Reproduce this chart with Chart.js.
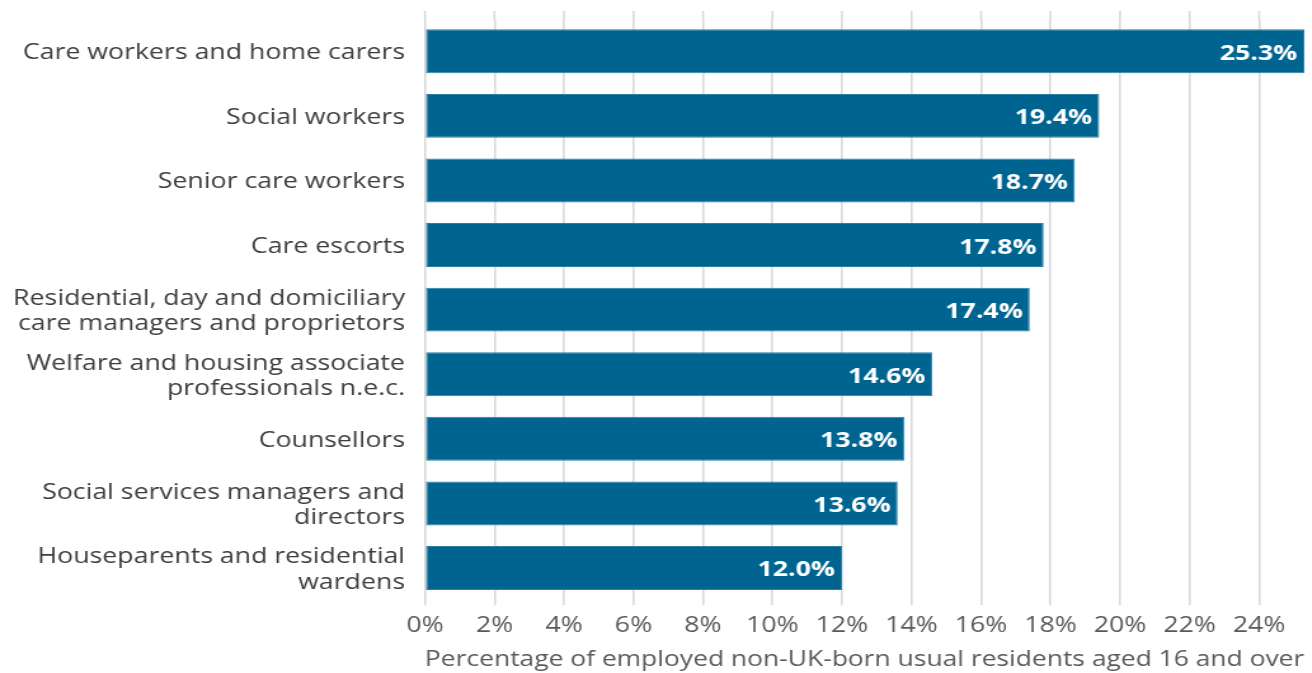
<!DOCTYPE html>
<html lang="en">
<head>
    <meta charset="UTF-8">
    <title>Non-UK-born workers in care occupations</title>
    <script src="https://cdn.jsdelivr.net/npm/chart.js"></script>
    <style>
        * { box-sizing: border-box; margin: 0; padding: 0; }
        body { background: #fff; width: 1312px; height: 673px; overflow: hidden; }
        /* the original graphic is stretched sideways, so draw narrow and widen it */
        #wrap {
            position: relative;
            width: 1033px;
            height: 673px;
            transform: scaleX(1.27);
            transform-origin: 0 0;
        }
    </style>
</head>
<body>
    <div id="wrap"><canvas id="chart"></canvas></div>
    <script>
        // occupations, top to bottom
        const occupations = [
            'Care workers and home carers',
            'Social workers',
            'Senior care workers',
            'Care escorts',
            ['Residential, day and domiciliary', 'care managers and proprietors'],
            ['Welfare and housing associate', 'professionals n.e.c.'],
            'Counsellors',
            ['Social services managers and', 'directors'],
            ['Houseparents and residential', 'wardens']
        ];
        // % of employed non-UK-born usual residents aged 16+
        const shares = [25.3, 19.4, 18.7, 17.8, 17.4, 14.6, 13.8, 13.6, 12.0];
        const axisTitle = 'Percentage of employed non-UK-born usual residents aged 16 and over';

        const FONT = '"Open Sans", sans-serif';

        // value labels inside the bar ends
        const barLabels = {
            id: 'barLabels',
            afterDatasetsDraw(chart) {
                const ctx = chart.ctx;
                const meta = chart.getDatasetMeta(0);
                ctx.save();
                ctx.font = 'bold 21px ' + FONT;
                ctx.fillStyle = '#ffffff';
                ctx.textAlign = 'right';
                ctx.textBaseline = 'middle';
                meta.data.forEach((bar, i) => {
                    ctx.fillText(shares[i].toFixed(1) + '%', bar.x - 5.5, bar.y + 2.5);
                });
                ctx.restore();
            }
        };

        // gridlines poke a little above the plot area
        const gridTop = {
            id: 'gridTop',
            beforeDatasetsDraw(chart) {
                const ctx = chart.ctx;
                const x = chart.scales.x;
                const top = chart.chartArea.top;
                ctx.save();
                ctx.lineWidth = 1.6;
                ctx.strokeStyle = '#d9d9d9';
                x.ticks.forEach(t => {
                    const px = x.getPixelForValue(t.value);
                    ctx.beginPath();
                    ctx.moveTo(px, top - 8);
                    ctx.lineTo(px, top);
                    ctx.stroke();
                });
                ctx.restore();
            }
        };

        new Chart(document.getElementById('chart'), {
            type: 'bar',
            data: {
                labels: occupations,
                datasets: [{
                    data: shares,
                    backgroundColor: '#006491',
                    borderColor: '#2a7fa6',
                    borderWidth: 1,
                    borderSkipped: false,
                    categoryPercentage: 0.68,
                    barPercentage: 1
                }]
            },
            options: {
                indexAxis: 'y',
                responsive: true,
                maintainAspectRatio: false,
                animation: false,
                layout: { padding: { top: 19, right: 6, left: 0, bottom: 0 } },
                plugins: {
                    legend: { display: false },
                    tooltip: { enabled: false }
                },
                scales: {
                    x: {
                        min: 0,
                        max: 25.3,
                        border: { display: false },
                        grid: {
                            color: '#d9d9d9',
                            lineWidth: 1.6,
                            drawTicks: true,
                            tickLength: 5
                        },
                        afterFit: s => { s.height = 72.7; },
                        ticks: {
                            stepSize: 2,
                            includeBounds: false,
                            padding: 8,
                            color: '#595959',
                            font: { family: FONT, size: 21 },
                            callback: v => v + '%'
                        },
                        title: {
                            display: true,
                            text: axisTitle,
                            align: 'end',
                            color: '#595959',
                            font: { family: FONT, size: 21.5 },
                            padding: { top: 0, bottom: 0 }
                        }
                    },
                    y: {
                        border: { display: false },
                        grid: { display: false, drawTicks: false },
                        afterFit: s => {
                            s.width = 334.6;
                            s.paddingTop = 0;
                            s.paddingBottom = 0;
                        },
                        ticks: {
                            padding: 15.7,
                            labelOffset: 2,
                            color: '#3d3d3d',
                            font: { family: FONT, size: 21, lineHeight: 1.2 },
                            autoSkip: false
                        }
                    }
                }
            },
            plugins: [barLabels, gridTop]
        });
    </script>
</body>
</html>
